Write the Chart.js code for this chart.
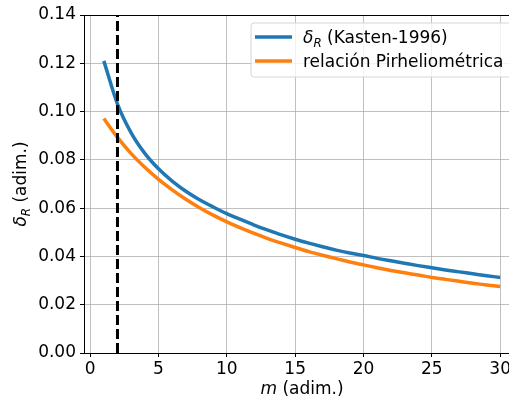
<!DOCTYPE html>
<html>
<head>
<meta charset="utf-8">
<script src="https://cdn.jsdelivr.net/npm/chart.js@4"></script>
<style>
  html, body { margin: 0; padding: 0; background: #fff; overflow: hidden; }
  #wrap { width: 530px; height: 401px; }
</style>
</head>
<body>
<div id="wrap"><canvas id="chart" width="530" height="401"></canvas></div>
<script>
// air mass values (m) and the two delta_R curves
const airMass = [1, 2, 3, 4, 5, 6, 7, 8, 9, 10, 11, 12, 13, 14, 15,
                 16, 17, 18, 19, 20, 21, 22, 23, 24, 25, 26, 27, 28, 29, 30];
const kasten = [0.1210, 0.1031, 0.0912, 0.0827, 0.0763, 0.0712, 0.0670, 0.0635, 0.0605, 0.0577,
                0.0553, 0.0530, 0.0509, 0.0489, 0.0471, 0.0455, 0.0440, 0.0426, 0.0414, 0.0404,
                0.0392, 0.0382, 0.0372, 0.0362, 0.0353, 0.0344, 0.0336, 0.0328, 0.0320, 0.0313];
const pirhelio = [0.0971, 0.0893, 0.0826, 0.0769, 0.0719, 0.0676, 0.0637, 0.0602, 0.0571, 0.0543,
                  0.0518, 0.0495, 0.0474, 0.0455, 0.0437, 0.0420, 0.0405, 0.0391, 0.0377, 0.0365,
                  0.0353, 0.0342, 0.0332, 0.0323, 0.0313, 0.0305, 0.0297, 0.0289, 0.0282, 0.0275];
const vlineX = 2;
const xTicks = [0, 5, 10, 15, 20, 25, 30];
const yTicks = [0, 0.02, 0.04, 0.06, 0.08, 0.10, 0.12, 0.14];

const FONT = '"DejaVu Sans", sans-serif';
const blue = '#1f77b4';
const orange = '#ff7f0e';

// draw text made of parts: {t, it (italic), sub}
function drawParts(ctx, parts, x, y, size) {
    let cx = x;
    parts.forEach(p => {
        const s = p.sub ? size * 0.7 : size;
        ctx.font = (p.it ? 'italic ' : '') + s + 'px ' + FONT;
        ctx.fillText(p.t, cx, p.sub ? y + size * 0.22 : y);
        cx += ctx.measureText(p.t).width;
    });
    return cx - x;
}
function partsWidth(ctx, parts, size) {
    let w = 0;
    parts.forEach(p => {
        const s = p.sub ? size * 0.7 : size;
        ctx.font = (p.it ? 'italic ' : '') + s + 'px ' + FONT;
        w += ctx.measureText(p.t).width;
    });
    return w;
}

const legendItems = [
    { color: blue, parts: [{ t: 'δ', it: true }, { t: 'R', it: true, sub: true }, { t: ' (Kasten-1996)' }] },
    { color: orange, parts: [{ t: 'relación Pirheliométrica' }] }
];
const yTitle = [{ t: 'δ', it: true }, { t: 'R', it: true, sub: true }, { t: ' (adim.)' }];
const xTitle = [{ t: 'm', it: true }, { t: ' (adim.)' }];

const decor = {
    id: 'decor',
    afterDraw(chart) {
        const ctx = chart.ctx;
        const a = chart.chartArea;
        ctx.save();
        // top spine
        ctx.strokeStyle = '#000';
        ctx.lineWidth = 1;
        ctx.beginPath();
        ctx.moveTo(a.left, a.top + 0.5);
        ctx.lineTo(a.right, a.top + 0.5);
        ctx.stroke();

        ctx.fillStyle = '#000';
        ctx.textBaseline = 'alphabetic';
        // x title
        const xw = partsWidth(ctx, xTitle, 17);
        drawParts(ctx, xTitle, (a.left + a.right) / 2 - xw / 2, 394, 17);
        // y title
        ctx.save();
        ctx.translate(26, (a.top + a.bottom) / 2);
        ctx.rotate(-Math.PI / 2);
        const yw = partsWidth(ctx, yTitle, 17);
        drawParts(ctx, yTitle, -yw / 2, 0, 17);
        ctx.restore();

        // legend
        const lx = 251, ly = 23, lw = 261, lh = 54;
        ctx.beginPath();
        ctx.roundRect(lx, ly, lw, lh, 3);
        ctx.fillStyle = 'rgba(255,255,255,0.8)';
        ctx.fill();
        ctx.strokeStyle = '#d6d6d6';
        ctx.lineWidth = 1;
        ctx.stroke();
        legendItems.forEach((it, i) => {
            const yy = 37 + i * 24;
            ctx.strokeStyle = it.color;
            ctx.lineWidth = 3.5;
            ctx.beginPath();
            ctx.moveTo(255, yy);
            ctx.lineTo(292, yy);
            ctx.stroke();
            ctx.fillStyle = '#000';
            drawParts(ctx, it.parts, 303, yy + 6, 17);
        });
        ctx.restore();
    }
};

const toPts = (ys) => airMass.map((m, i) => ({ x: m, y: ys[i] }));

new Chart(document.getElementById('chart'), {
    type: 'line',
    data: {
        datasets: [
            {
                data: [{ x: vlineX, y: yTicks[0] }, { x: vlineX, y: yTicks[yTicks.length - 1] }],
                borderColor: '#000', borderWidth: 3, borderDash: [10, 4],
                pointRadius: 0, order: 0
            },
            {
                data: toPts(kasten), borderColor: blue, borderWidth: 3.5,
                pointRadius: 0, cubicInterpolationMode: 'monotone', order: 1
            },
            {
                data: toPts(pirhelio), borderColor: orange, borderWidth: 3.5,
                pointRadius: 0, cubicInterpolationMode: 'monotone', order: 2
            }
        ]
    },
    options: {
        responsive: false,
        animation: false,
        events: [],
        layout: { padding: { top: 15, right: 10, left: 0, bottom: 0 } },
        plugins: { legend: { display: false }, tooltip: { enabled: false } },
        scales: {
            x: {
                type: 'linear', min: -0.45, max: 31.45,
                afterBuildTicks: s => { s.ticks = xTicks.map(v => ({ value: v })); },
                afterFit: s => { s.height = 48; },
                grid: { color: '#b0b0b0', lineWidth: 0.8, tickLength: 4, tickColor: '#000', tickWidth: 1 },
                border: { color: '#000', width: 1 },
                ticks: { color: '#000', font: { family: FONT, size: 17 }, padding: 2, maxRotation: 0 }
            },
            y: {
                min: 0, max: 0.14,
                afterBuildTicks: s => { s.ticks = yTicks.map(v => ({ value: v })); },
                afterFit: s => { s.width = 84; },
                grid: { color: '#b0b0b0', lineWidth: 0.8, tickLength: 4, tickColor: '#000', tickWidth: 1 },
                border: { color: '#000', width: 1 },
                ticks: {
                    color: '#000', font: { family: FONT, size: 17 }, padding: 4,
                    callback: v => v.toFixed(2)
                }
            }
        }
    },
    plugins: [decor]
});
</script>
</body>
</html>
